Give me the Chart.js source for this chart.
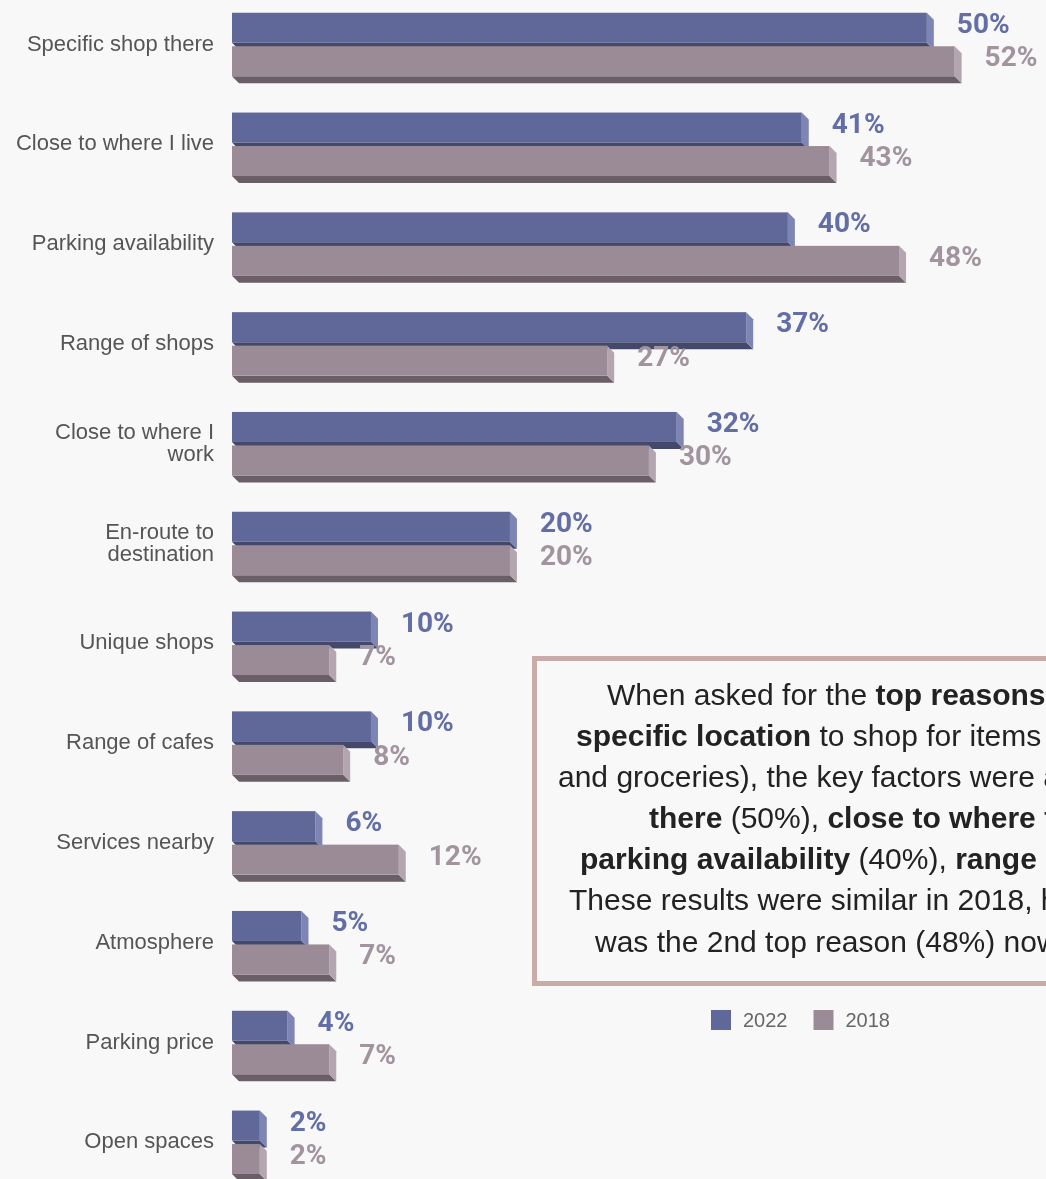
<!DOCTYPE html>
<html>
<head>
<meta charset="utf-8">
<title>Reasons for choosing a location</title>
<script src="https://cdn.jsdelivr.net/npm/chart.js@4.4.0/dist/chart.umd.min.js"></script>
<style>
  html, body { margin: 0; padding: 0; background: #f8f8f8; overflow: hidden; }
  #wrap { position: relative; width: 1046px; height: 1179px; overflow: hidden; }
  #reasons { position: absolute; left: 0; top: 0; }
  .note {
    position: absolute; left: 532px; top: 656px; width: 720px; height: 330px;
    box-sizing: border-box; border: 5px solid #c9aba7;
  }
  .line {
    position: absolute; white-space: nowrap; color: #222;
    font: 30px "Liberation Sans", Arial, sans-serif; line-height: 41px;
  }
  .line b { font-weight: 700; }
</style>
</head>
<body>
<div id="wrap">
  <canvas id="reasons" width="1046" height="1179"></canvas>
  <div class="note"></div>
  <div class="line" style="left:607px; top:674px">When asked for the <b>top reasons</b> for choosing a</div>
  <div class="line" style="left:576px; top:715px"><b>specific location</b> to shop for items (excluding food</div>
  <div class="line" style="left:558px; top:756px">and groceries), the key factors were a <b>specific shop</b></div>
  <div class="line" style="left:649px; top:797px"><b>there</b> (50%), <b>close to where they live</b> (41%),</div>
  <div class="line" style="left:580px; top:838px"><b>parking availability</b> (40%), <b>range of shops</b> (37%).</div>
  <div class="line" style="left:569px; top:879px">These results were similar in 2018, however <b>parking</b></div>
  <div class="line" style="left:595px; top:921px">was the 2nd top reason (48%) now 3rd.</div>
</div>
<script>
const reasons = [
  'Specific shop there',
  'Close to where I live',
  'Parking availability',
  'Range of shops',
  ['Close to where I', 'work'],
  ['En-route to', 'destination'],
  'Unique shops',
  'Range of cafes',
  'Services nearby',
  'Atmosphere',
  'Parking price',
  'Open spaces'
];
const years = ['2022', '2018'];
const share2022 = [50, 41, 40, 37, 32, 20, 10, 10, 6, 5, 4, 2];
const share2018 = [52, 43, 48, 27, 30, 20, 7, 8, 12, 7, 7, 2];

// front / side / underside shades for the extruded bars
const shades = [
  { front: '#5f6898', side: '#7d85b4', under: '#44496c', text: '#636da6' },
  { front: '#9b8b97', side: '#b3a6b0', under: '#6a5e67', text: '#a2949e' }
];
const DEPTH = 7;

function fillPoly(ctx, pts) {
  ctx.beginPath();
  ctx.moveTo(pts[0][0], pts[0][1]);
  for (let i = 1; i < pts.length; i++) ctx.lineTo(pts[i][0], pts[i][1]);
  ctx.closePath();
  ctx.fill();
}

// draws every bar as a small block, 2022 first so 2018 sits over its underside
const blockBars = {
  id: 'blockBars',
  beforeDatasetsDraw(chart) {
    const ctx = chart.ctx;
    ctx.save();
    chart.data.datasets.forEach((ds, i) => {
      const c = shades[i];
      chart.getDatasetMeta(i).data.forEach(bar => {
        const {x, y, base, height} = bar.getProps(['x', 'y', 'base', 'height'], true);
        const top = y - height / 2, bottom = y + height / 2;
        ctx.fillStyle = c.under;
        fillPoly(ctx, [[base, bottom], [x, bottom], [x + DEPTH, bottom + DEPTH], [base + DEPTH, bottom + DEPTH]]);
        ctx.fillStyle = c.side;
        fillPoly(ctx, [[x, top], [x + DEPTH, top + DEPTH], [x + DEPTH, bottom + DEPTH], [x, bottom]]);
        ctx.fillStyle = c.front;
        ctx.fillRect(base, top, x - base, height);
      });
    });

    ctx.font = '700 28px Roboto, "Liberation Sans", sans-serif';
    ctx.textAlign = 'left';
    ctx.textBaseline = 'middle';
    chart.data.datasets.forEach((ds, i) => {
      ctx.fillStyle = shades[i].text;
      chart.getDatasetMeta(i).data.forEach((bar, j) => {
        const {x, y} = bar.getProps(['x', 'y'], true);
        ctx.fillText(ds.data[j] + '%', x + 30, y - 2);
      });
    });
    ctx.restore();
    return false;
  },
  afterDraw(chart) {
    const ctx = chart.ctx;
    ctx.save();
    ctx.font = '20px "Liberation Sans", Arial, sans-serif';
    ctx.textBaseline = 'middle';
    ctx.textAlign = 'left';
    let lx = 711;
    const ly = 1020;
    chart.data.datasets.forEach((ds, i) => {
      ctx.fillStyle = shades[i].front;
      ctx.fillRect(lx, ly - 10, 20, 20);
      ctx.fillStyle = '#666';
      ctx.fillText(ds.label, lx + 32, ly + 1);
      lx += 32 + ctx.measureText(ds.label).width + 26;
    });
    ctx.restore();
  }
};

new Chart(document.getElementById('reasons'), {
  type: 'bar',
  data: {
    labels: reasons,
    datasets: [
      { label: years[0], data: share2022, backgroundColor: shades[0].front },
      { label: years[1], data: share2018, backgroundColor: shades[1].front }
    ]
  },
  options: {
    indexAxis: 'y',
    responsive: false,
    animation: false,
    devicePixelRatio: 1,
    categoryPercentage: 0.671,
    barPercentage: 0.896,
    layout: { padding: { top: 44.5, bottom: 36.7, left: 0, right: 8 } },
    scales: {
      x: { display: false, min: 0, max: 58 },
      y: {
        offset: false,
        grid: { display: false, drawTicks: false },
        border: { display: false },
        afterFit(scale) { scale.width = 232; },
        ticks: {
          autoSkip: false,
          padding: 18,
          color: '#555',
          font: { family: '"Liberation Sans", Arial, sans-serif', size: 22, lineHeight: 1 }
        }
      }
    },
    plugins: {
      legend: { display: false },
      tooltip: { enabled: false }
    }
  },
  plugins: [blockBars]
});
</script>
</body>
</html>
